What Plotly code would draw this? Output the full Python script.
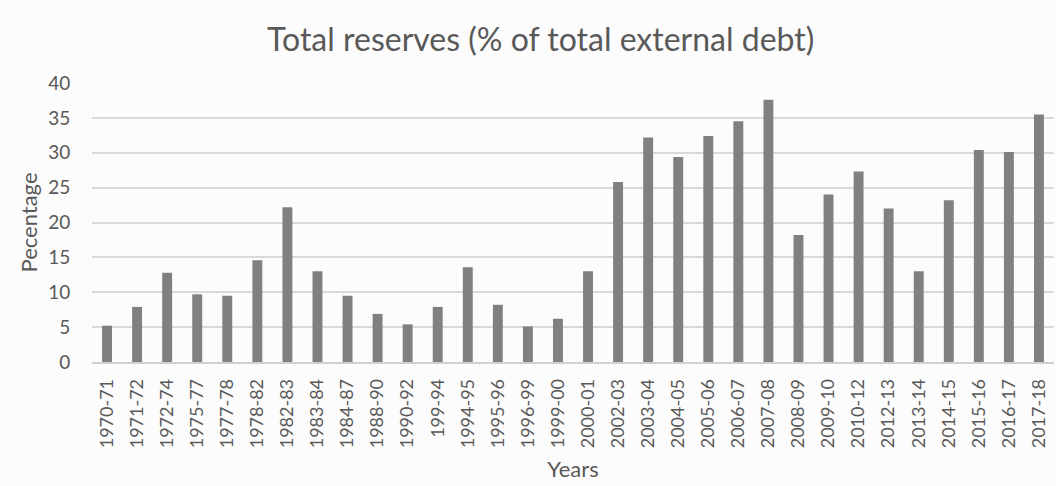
import plotly.graph_objects as go

years = ["1970-71", "1971-72", "1972-74", "1975-77", "1977-78", "1978-82", "1982-83",
         "1983-84", "1984-87", "1988-90", "1990-92", "199-94", "1994-95", "1995-96",
         "1996-99", "1999-00", "2000-01", "2002-03", "2003-04", "2004-05", "2005-06",
         "2006-07", "2007-08", "2008-09", "2009-10", "2010-12", "2012-13", "2013-14",
         "2014-15", "2015-16", "2016-17", "2017-18"]
values = [5.2, 7.9, 12.8, 9.7, 9.5, 14.6, 22.2, 13.0, 9.5, 6.9, 5.4, 7.9, 13.6, 8.2,
          5.1, 6.2, 13.0, 25.8, 32.2, 29.4, 32.4, 34.5, 37.6, 18.2, 24.0, 27.3, 22.0,
          13.0, 23.2, 30.4, 30.1, 35.5]
y_ticks = [0, 5, 10, 15, 20, 25, 30, 35, 40]

FONT = "Lato"
TXT = "#595959"

fig = go.Figure(go.Bar(x=years, y=values, marker=dict(color="#808080", line=dict(width=0))))

fig.update_layout(
    width=1056, height=486,
    margin=dict(l=92, r=2, t=83, b=124),
    paper_bgcolor="#fcfcfc", plot_bgcolor="#fcfcfc",
    bargap=0.67,
    showlegend=False,
    font=dict(family=FONT, color=TXT),
    title=dict(text="Total reserves (% of total external debt)", x=0.512, xanchor="center",
               y=0.918, yanchor="middle", font=dict(family=FONT, size=32, color=TXT)),
)
fig.update_xaxes(
    type="category", tickangle=-90, tickfont=dict(size=18, color=TXT),
    ticks="outside", ticklen=8, tickcolor="rgba(0,0,0,0)",
    showline=True, linecolor="#d0d0d0", linewidth=1.5, showgrid=False,
    title=dict(text="Years", font=dict(size=22, color=TXT), standoff=14),
)
fig.update_yaxes(
    range=[0, 40], tickvals=y_ticks, tickfont=dict(size=19, color=TXT),
    ticks="outside", ticklen=17, tickcolor="rgba(0,0,0,0)",
    showgrid=True, gridcolor="#d9d9d9", gridwidth=1.5, zeroline=False,
    title=dict(text="Pecentage", font=dict(size=22, color=TXT), standoff=4),
)

fig.write_html("out.html")
